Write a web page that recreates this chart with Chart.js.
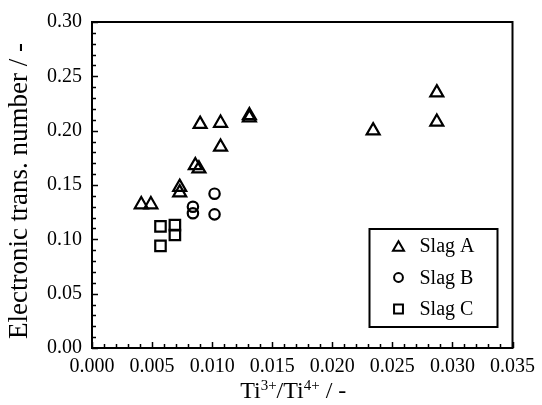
<!DOCTYPE html>
<html>
<head>
<meta charset="utf-8">
<script src="https://cdn.jsdelivr.net/npm/chart.js@4.4.0/dist/chart.umd.min.js"></script>
<style>
    html, body { margin: 0; padding: 0; background: #fff; }
    canvas { display: block; }
</style>
</head>
<body>
<canvas id="slagChart" width="542" height="405"></canvas>
<script>
// data
var slagAx = [0.0041, 0.0049, 0.0073, 0.0073, 0.0086, 0.0089, 0.0090, 0.0107, 0.0107, 0.0131, 0.0131, 0.0234, 0.0287, 0.0287];
var slagAy = [0.132, 0.132, 0.148, 0.143, 0.168, 0.165, 0.206, 0.207, 0.185, 0.212, 0.214, 0.200, 0.235, 0.208];
var slagBx = [0.0084, 0.0084, 0.0102, 0.0102];
var slagBy = [0.130, 0.124, 0.142, 0.123];
var slagCx = [0.0057, 0.0069, 0.0069, 0.0057];
var slagCy = [0.112, 0.113, 0.104, 0.094];

var seriesNames = ['Slag A', 'Slag B', 'Slag C'];
var xTicks = [0, 0.005, 0.010, 0.015, 0.020, 0.025, 0.030, 0.035];
var yTicks = [0, 0.05, 0.10, 0.15, 0.20, 0.25, 0.30];

var serif = '"Liberation Serif", "Times New Roman", serif';
Chart.defaults.font.family = serif;
Chart.defaults.color = '#000';

function toPoints(xs, ys) {
    return xs.map(function (x, i) { return { x: x, y: ys[i] }; });
}

var styles = [
    { pointStyle: 'triangle', radius: 7.5 },
    { pointStyle: 'circle', radius: 5.2 },
    { pointStyle: 'rect', radius: 7.4 }
];

// inward ticks, frame, titles and legend box
var framePlugin = {
    id: 'frame',
    afterDraw: function (chart) {
        var ctx = chart.ctx;
        var a = chart.chartArea;
        var xs = chart.scales.x, ys = chart.scales.y;

        ctx.save();
        ctx.strokeStyle = '#000';
        ctx.lineWidth = 1.5;
        ctx.beginPath();
        for (var i = 0; i <= 35; i++) {
            var px = Math.round(xs.getPixelForValue(i / 1000)) + 0.5;
            var len = i % 5 === 0 ? 6 : 4;
            ctx.moveTo(px, a.bottom);
            ctx.lineTo(px, a.bottom - len);
        }
        for (var j = 0; j <= 30; j++) {
            var py = Math.round(ys.getPixelForValue(j / 100)) + 0.5;
            var len2 = j % 5 === 0 ? 6 : 4;
            ctx.moveTo(a.left, py);
            ctx.lineTo(a.left + len2, py);
        }
        ctx.stroke();

        ctx.lineWidth = 2;
        ctx.strokeRect(a.left, a.top, a.right - a.left, a.bottom - a.top);

        // y title
        ctx.fillStyle = '#000';
        ctx.font = '27px ' + serif;
        ctx.textAlign = 'center';
        ctx.textBaseline = 'alphabetic';
        ctx.save();
        ctx.translate(27, (a.top + a.bottom) / 2 + 6);
        ctx.rotate(-Math.PI / 2);
        ctx.fillText('Electronic trans. number / -', 0, 0);
        ctx.restore();

        // x title with superscripts
        var parts = [['Ti', 0], ['3+', 1], ['/Ti', 0], ['4+', 1], [' / -', 0]];
        var big = '24px ' + serif, small = '15px ' + serif;
        var total = 0;
        parts.forEach(function (p) {
            ctx.font = p[1] ? small : big;
            total += ctx.measureText(p[0]).width;
        });
        var tx = (a.left + a.right) / 2 - 9 - total / 2;
        var base = 398;
        ctx.textAlign = 'left';
        parts.forEach(function (p) {
            ctx.font = p[1] ? small : big;
            ctx.fillText(p[0], tx, p[1] ? base - 8 : base);
            tx += ctx.measureText(p[0]).width;
        });

        // legend box
        var bx = a.right - 143, by = a.bottom - 119, bw = 128, bh = 98;
        ctx.lineWidth = 2;
        ctx.strokeRect(bx, by, bw, bh);
        ctx.font = '20px ' + serif;
        ctx.textBaseline = 'middle';
        seriesNames.forEach(function (name, k) {
            var cy = by + 17 + k * 31.5;
            var st = styles[k];
            ctx.strokeStyle = '#000';
            ctx.fillStyle = 'rgba(0,0,0,0)';
            ctx.lineWidth = 2;
            Chart.helpers.drawPoint(ctx, {
                pointStyle: st.pointStyle,
                radius: st.radius * 0.85,
                rotation: 0,
                borderWidth: 2
            }, bx + 29, cy + (k === 0 ? 1.5 : 0));
            ctx.fillStyle = '#000';
            ctx.fillText(name, bx + 50, cy + 1);
        });
        ctx.restore();
    }
};

var datasets = [
    toPoints(slagAx, slagAy),
    toPoints(slagBx, slagBy),
    toPoints(slagCx, slagCy)
].map(function (pts, k) {
    return {
        label: seriesNames[k],
        data: pts,
        pointStyle: styles[k].pointStyle,
        pointRadius: styles[k].radius,
        pointBorderWidth: 2.2,
        pointBorderColor: '#000',
        pointBackgroundColor: 'rgba(0,0,0,0)',
        showLine: false
    };
});

new Chart(document.getElementById('slagChart'), {
    type: 'scatter',
    data: { datasets: datasets },
    options: {
        responsive: false,
        animation: false,
        layout: { padding: { top: 18, right: 26, left: 0, bottom: 0 } },
        plugins: {
            legend: { display: false },
            tooltip: { enabled: false }
        },
        scales: {
            x: {
                type: 'linear',
                min: 0,
                max: 0.035,
                afterBuildTicks: function (scale) {
                    scale.ticks = xTicks.map(function (v) { return { value: v }; });
                },
                afterFit: function (scale) { scale.height = 57; },
                grid: { display: false, drawTicks: false },
                border: { display: false },
                ticks: {
                    color: '#000',
                    padding: 7,
                    maxRotation: 0,
                    font: { family: serif, size: 20 },
                    callback: function (v) { return v.toFixed(3); }
                }
            },
            y: {
                type: 'linear',
                min: 0,
                max: 0.30,
                afterBuildTicks: function (scale) {
                    scale.ticks = yTicks.map(function (v) { return { value: v }; });
                },
                afterFit: function (scale) { scale.width = 92; },
                grid: { display: false, drawTicks: false },
                border: { display: false },
                ticks: {
                    color: '#000',
                    padding: 10,
                    font: { family: serif, size: 20 },
                    callback: function (v) { return v.toFixed(2); }
                }
            }
        }
    },
    plugins: [framePlugin]
});
</script>
</body>
</html>
